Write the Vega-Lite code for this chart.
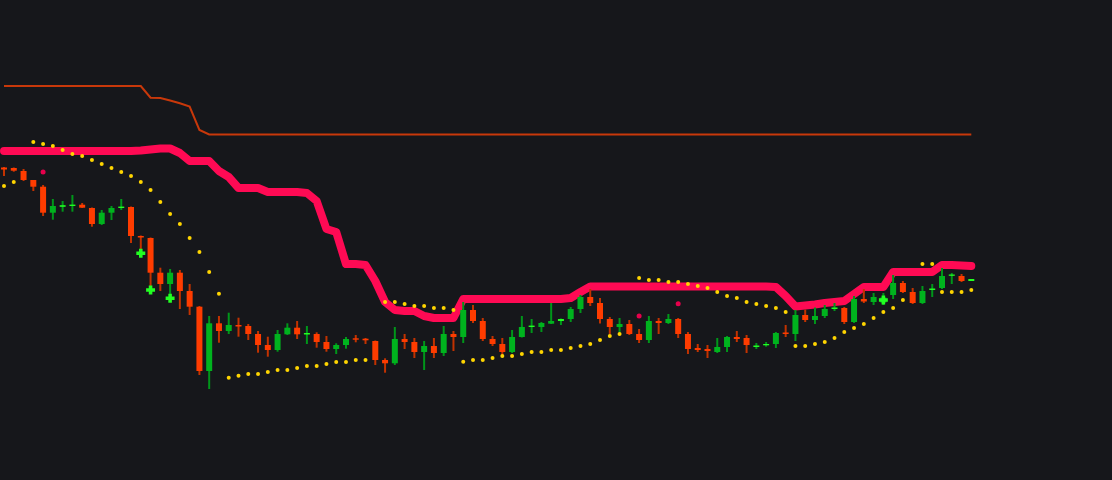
{
  "$schema": "https://vega.github.io/schema/vega-lite/v6.json",
  "width": 1112,
  "height": 480,
  "autosize": {"type": "none"},
  "padding": 0,
  "background": "#16171b",
  "config": {"view": {"stroke": null}},
  "datasets": {
    "candles": [
      {"i":0,"o":312.5,"h":313,"l":304,"c":310.5,"s":294,"st":329,"t":394},
      {"i":1,"o":312,"h":312.5,"l":308.3,"c":309.3,"s":298,"st":329,"t":394},
      {"i":2,"o":309,"h":311,"l":299,"c":300,"s":null,"st":329,"t":394},
      {"i":3,"o":300,"h":300,"l":289,"c":293.3,"s":338,"st":329,"t":394},
      {"i":4,"o":293.3,"h":295,"l":264,"c":267.3,"s":336,"st":329,"t":394},
      {"i":5,"o":267.3,"h":281,"l":260.3,"c":274,"s":334,"st":329,"t":394},
      {"i":6,"o":273.2,"h":279,"l":268.3,"c":274.8,"s":330,"st":329,"t":394},
      {"i":7,"o":274,"h":285,"l":268.3,"c":275.4,"s":326,"st":329,"t":394},
      {"i":8,"o":275.3,"h":277,"l":272,"c":272.3,"s":324,"st":329,"t":394},
      {"i":9,"o":272,"h":272.5,"l":253.3,"c":256,"s":320,"st":329,"t":394},
      {"i":10,"o":256,"h":270,"l":255,"c":267.3,"s":316,"st":329,"t":394},
      {"i":11,"o":267.3,"h":274,"l":260,"c":272,"s":312,"st":329,"t":394},
      {"i":12,"o":272,"h":281,"l":270,"c":273.4,"s":308,"st":329,"t":394},
      {"i":13,"o":273,"h":273.5,"l":237,"c":244,"s":304,"st":329,"t":394},
      {"i":14,"o":244,"h":244.5,"l":223,"c":242.5,"s":298,"st":329.5,"t":394},
      {"i":15,"o":242,"h":242.5,"l":187,"c":207.3,"s":290,"st":330.5,"t":382.3},
      {"i":16,"o":207.3,"h":212.3,"l":189,"c":196,"s":278,"st":331.5,"t":382},
      {"i":17,"o":196,"h":211,"l":185,"c":207.3,"s":266,"st":331.5,"t":379.5},
      {"i":18,"o":207.3,"h":210,"l":171,"c":189,"s":256,"st":327,"t":376.7},
      {"i":19,"o":189,"h":196,"l":165,"c":173.3,"s":242,"st":319,"t":373.5},
      {"i":20,"o":173.3,"h":174,"l":105,"c":109,"s":228,"st":319,"t":350},
      {"i":21,"o":109,"h":164,"l":91,"c":156.7,"s":208,"st":319,"t":345.5},
      {"i":22,"o":156.7,"h":164,"l":137.3,"c":149,"s":186.3,"st":309,"t":345.5},
      {"i":23,"o":149,"h":167.3,"l":146,"c":155,"s":102.3,"st":303,"t":345.5},
      {"i":24,"o":155,"h":162.3,"l":143.3,"c":153.5,"s":104.3,"st":292,"t":345.5},
      {"i":25,"o":154,"h":156,"l":140,"c":146,"s":106,"st":292,"t":345.5},
      {"i":26,"o":146,"h":149,"l":127.3,"c":135,"s":106,"st":292,"t":345.5},
      {"i":27,"o":135,"h":143.3,"l":123.3,"c":130,"s":108,"st":288,"t":345.5},
      {"i":28,"o":130,"h":150,"l":128.3,"c":146,"s":110,"st":288,"t":345.5},
      {"i":29,"o":145.7,"h":156.7,"l":145,"c":152.3,"s":110,"st":288,"t":345.5},
      {"i":30,"o":152.3,"h":159,"l":141,"c":145.7,"s":112,"st":288,"t":345.5},
      {"i":31,"o":145.5,"h":154,"l":136,"c":147,"s":114,"st":287,"t":345.5},
      {"i":32,"o":146,"h":147.7,"l":132.3,"c":138,"s":114,"st":279,"t":345.5},
      {"i":33,"o":138,"h":144,"l":128.3,"c":131,"s":116,"st":251,"t":345.5},
      {"i":34,"o":131,"h":136.7,"l":126,"c":135,"s":118,"st":248,"t":345.5},
      {"i":35,"o":135,"h":143,"l":131.3,"c":141,"s":118,"st":216,"t":345.5},
      {"i":36,"o":141.7,"h":145,"l":137.7,"c":140.3,"s":120,"st":216,"t":345.5},
      {"i":37,"o":141.3,"h":142,"l":136,"c":139.7,"s":120,"st":215,"t":345.5},
      {"i":38,"o":139,"h":139.5,"l":115,"c":120,"s":null,"st":199,"t":345.5},
      {"i":39,"o":120,"h":121.7,"l":107.3,"c":116.7,"s":178,"st":178,"t":345.5},
      {"i":40,"o":116.7,"h":153,"l":115,"c":141,"s":178,"st":170,"t":345.5},
      {"i":41,"o":141,"h":146,"l":131,"c":138,"s":176,"st":169,"t":345.5},
      {"i":42,"o":138,"h":142,"l":122,"c":128,"s":174,"st":169,"t":345.5},
      {"i":43,"o":128,"h":139,"l":110,"c":134,"s":174,"st":164,"t":345.5},
      {"i":44,"o":134,"h":142,"l":122,"c":127,"s":172,"st":162,"t":345.5},
      {"i":45,"o":127,"h":154,"l":124,"c":146,"s":172,"st":162,"t":345.5},
      {"i":46,"o":146,"h":149,"l":129,"c":143,"s":170,"st":162,"t":345.5},
      {"i":47,"o":143,"h":178,"l":137,"c":170,"s":118.3,"st":181,"t":345.5},
      {"i":48,"o":170,"h":175,"l":157,"c":159,"s":120,"st":181,"t":345.5},
      {"i":49,"o":159,"h":162,"l":139,"c":141,"s":120,"st":181,"t":345.5},
      {"i":50,"o":141,"h":144,"l":134,"c":136,"s":122,"st":181,"t":345.5},
      {"i":51,"o":136,"h":142,"l":124,"c":128,"s":124,"st":181,"t":345.5},
      {"i":52,"o":128,"h":150,"l":127,"c":143,"s":124,"st":181,"t":345.5},
      {"i":53,"o":143,"h":164,"l":142.5,"c":153,"s":126,"st":181,"t":345.5},
      {"i":54,"o":153,"h":161,"l":147,"c":154.4,"s":128,"st":181,"t":345.5},
      {"i":55,"o":153,"h":158,"l":148,"c":157,"s":128,"st":181,"t":345.5},
      {"i":56,"o":156.3,"h":177,"l":156,"c":159,"s":130,"st":181,"t":345.5},
      {"i":57,"o":159,"h":161.5,"l":155,"c":161,"s":130,"st":181,"t":345.5},
      {"i":58,"o":161,"h":173,"l":158,"c":171,"s":132,"st":182,"t":345.5},
      {"i":59,"o":171,"h":185,"l":167,"c":183,"s":134,"st":188,"t":345.5},
      {"i":60,"o":183,"h":191,"l":174,"c":177,"s":136,"st":193.5,"t":345.5},
      {"i":61,"o":177,"h":182,"l":156.5,"c":161,"s":140,"st":193.5,"t":345.5},
      {"i":62,"o":161,"h":163,"l":146,"c":153,"s":144,"st":193.5,"t":345.5},
      {"i":63,"o":153,"h":162,"l":148,"c":156,"s":146,"st":193.5,"t":345.5},
      {"i":64,"o":156,"h":160,"l":145,"c":146,"s":null,"st":193.5,"t":345.5},
      {"i":65,"o":146,"h":151,"l":137,"c":140,"s":202,"st":193.5,"t":345.5},
      {"i":66,"o":140,"h":164,"l":137,"c":159,"s":200,"st":193.5,"t":345.5},
      {"i":67,"o":159,"h":162,"l":146,"c":157,"s":200,"st":193.5,"t":345.5},
      {"i":68,"o":157,"h":166,"l":156,"c":161,"s":198,"st":193.5,"t":345.5},
      {"i":69,"o":161,"h":162,"l":142,"c":146,"s":198,"st":193.5,"t":345.5},
      {"i":70,"o":146,"h":148,"l":126,"c":131,"s":196,"st":193.5,"t":345.5},
      {"i":71,"o":132,"h":136,"l":128,"c":130,"s":194,"st":193.5,"t":345.5},
      {"i":72,"o":131,"h":135,"l":122,"c":129,"s":192,"st":193.5,"t":345.5},
      {"i":73,"o":128,"h":142,"l":127,"c":133,"s":188,"st":193.5,"t":345.5},
      {"i":74,"o":133,"h":144,"l":128,"c":143,"s":184,"st":193.5,"t":345.5},
      {"i":75,"o":143,"h":149,"l":138,"c":141,"s":182,"st":193.5,"t":345.5},
      {"i":76,"o":142,"h":145,"l":127,"c":135,"s":178,"st":193.5,"t":345.5},
      {"i":77,"o":133,"h":137,"l":131,"c":134.5,"s":176,"st":193.5,"t":345.5},
      {"i":78,"o":134.7,"h":138,"l":133.3,"c":136,"s":174,"st":193.5,"t":345.5},
      {"i":79,"o":136,"h":148,"l":132,"c":147,"s":172,"st":193,"t":345.5},
      {"i":80,"o":147.5,"h":155,"l":143,"c":146,"s":168,"st":184,"t":345.5},
      {"i":81,"o":146,"h":170,"l":139,"c":165,"s":134,"st":173.5,"t":345.5},
      {"i":82,"o":165,"h":170.5,"l":158,"c":160,"s":134,"st":174.5,"t":345.5},
      {"i":83,"o":160,"h":172.5,"l":156,"c":164,"s":136,"st":175.5,"t":345.5},
      {"i":84,"o":164,"h":175,"l":162,"c":171,"s":138,"st":177,"t":345.5},
      {"i":85,"o":171,"h":177,"l":169,"c":172.5,"s":142,"st":178,"t":345.5},
      {"i":86,"o":172,"h":173,"l":156,"c":158,"s":148,"st":179,"t":345.5},
      {"i":87,"o":158,"h":184,"l":157,"c":181,"s":152,"st":186,"t":345.5},
      {"i":88,"o":181,"h":191,"l":177,"c":178.5,"s":156,"st":193,"t":345.5},
      {"i":89,"o":178,"h":187,"l":175,"c":183,"s":162,"st":193,"t":345.5},
      {"i":90,"o":177.5,"h":187,"l":175,"c":182.5,"s":168,"st":193,"t":345.5},
      {"i":91,"o":185,"h":205,"l":181,"c":197,"s":172,"st":208,"t":345.5},
      {"i":92,"o":197,"h":199,"l":187,"c":188,"s":180,"st":208,"t":345.5},
      {"i":93,"o":188,"h":192,"l":176,"c":177,"s":null,"st":208,"t":345.5},
      {"i":94,"o":177,"h":194,"l":176,"c":189,"s":216,"st":208,"t":345.5},
      {"i":95,"o":190,"h":196,"l":183,"c":191.5,"s":216,"st":208,"t":345.5},
      {"i":96,"o":192,"h":212,"l":191,"c":204,"s":188,"st":215,"t":345.5},
      {"i":97,"o":204.2,"h":207,"l":196,"c":205.5,"s":188,"st":215,"t":345.5},
      {"i":98,"o":204,"h":206,"l":198,"c":199,"s":188,"st":214.5,"t":345.5},
      {"i":99,"o":199,"h":201,"l":199,"c":201,"s":190,"st":214,"t":345.5}
    ],
    "signals": [
      {"i":4,"p":308,"k":"sell"},
      {"i":65,"p":164,"k":"sell"},
      {"i":69,"p":176.3,"k":"sell"},
      {"i":14,"p":226.7,"k":"buy"},
      {"i":15,"p":190,"k":"buy"},
      {"i":17,"p":181.7,"k":"buy"},
      {"i":90,"p":180,"k":"buy"}
    ]
  },
  "encoding": {
    "x": {"field": "i", "type": "quantitative", "scale": {"domain": [-0.41, 113.4], "nice": false, "zero": false, "padding": 0}, "axis": null}
  },
  "layer": [
    {
      "data": {"name": "candles"},
      "mark": {"type": "line", "color": "#c8380a", "strokeWidth": 2},
      "encoding": {"y": {"field": "t", "type": "quantitative", "scale": {"domain": [0, 480], "nice": false, "zero": false, "padding": 0}, "axis": null}}
    },
    {
      "data": {"name": "candles"},
      "mark": {"type": "line", "color": "#ff0a54", "strokeWidth": 8, "strokeCap": "round", "strokeJoin": "round"},
      "encoding": {"y": {"field": "st", "type": "quantitative"}}
    },
    {
      "data": {"name": "candles"},
      "mark": {"type": "rule", "strokeWidth": 2},
      "encoding": {
        "y": {"field": "l", "type": "quantitative"},
        "y2": {"field": "h"},
        "color": {"condition": [{"test": "datum.c > datum.o", "value": "#00961a"}], "value": "#c23200"}
      }
    },
    {
      "data": {"name": "candles"},
      "mark": {"type": "bar", "width": 6},
      "encoding": {
        "y": {"field": "o", "type": "quantitative"},
        "y2": {"field": "c"},
        "color": {"condition": [{"test": "datum.c > datum.o && datum.c - datum.o < 2.5", "value": "#22ff22"}, {"test": "datum.c > datum.o", "value": "#00b31e"}], "value": "#ff3c00"}
      }
    },
    {
      "data": {"name": "candles"},
      "mark": {"type": "point", "filled": true, "size": 16, "opacity": 1, "color": "#ffd500"},
      "encoding": {"y": {"field": "s", "type": "quantitative"}}
    },
    {
      "data": {"name": "signals"},
      "transform": [{"filter": "datum.k === 'sell'"}],
      "mark": {"type": "point", "shape": "circle", "filled": true, "size": 25, "opacity": 1, "color": "#e6004c"},
      "encoding": {"y": {"field": "p", "type": "quantitative"}}
    },
    {
      "data": {"name": "signals"},
      "transform": [{"filter": "datum.k === 'buy'"}],
      "mark": {"type": "point", "shape": "cross", "filled": true, "size": 80, "opacity": 1, "color": "#22ff22"},
      "encoding": {"y": {"field": "p", "type": "quantitative"}}
    }
  ]
}
